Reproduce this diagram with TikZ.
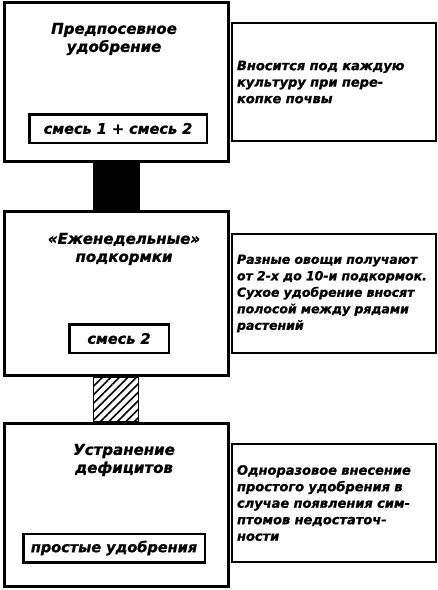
\documentclass[tikz,border=0pt]{standalone}
\usepackage{fontspec}
\setmainfont{DejaVu Sans}
\newfontfamily\hand{DejaVu Sans}[FakeBold=1]
\usetikzlibrary{patterns.meta}

\tikzset{
  stage/.style={draw, line width=3pt, anchor=north west, minimum width=224pt},
  mix/.style={draw, line width=2.5pt, inner sep=0pt, minimum height=28.5pt,
    font=\hand\fontsize{14.5}{17}\selectfont\bfseries\itshape},
  note/.style={draw, line width=2pt, anchor=north west, minimum width=204pt,
    text width=194pt, inner xsep=5pt, align=left,
    font=\hand\fontsize{13}{16.5}\selectfont\bfseries\itshape},
  heading/.style={align=center, font=\hand\fontsize{15}{18}\selectfont\bfseries\itshape}
}

\begin{document}
\begin{tikzpicture}[x=1pt,y=-1pt]
  \useasboundingbox (0,0) rectangle (438,590);
  \node[stage, minimum height=159pt] (s1) at (3,1) {};
  \node[stage, minimum height=164pt] (s2) at (3,210) {};
  \node[stage, minimum height=163pt] (s3) at (3,422) {};
  \node[heading] (h1) at (114,39) {Предпосевное\\удобрение};
  \node[heading] (h2) at (124,249) {«Еженедельные»\\подкормки};
  \node[heading] (h3) at (124,460) {Устранение\\дефицитов};
  \node[mix, minimum width=177.5pt] (m1) at (118,128.5) {смесь 1 + смесь 2};
  \node[mix, minimum width=99.5pt] (m2) at (119,338.5) {смесь 2};
  \node[mix, minimum width=181.5pt] (m3) at (114,548) {простые удобрения};
  \node[note, minimum height=118pt] (n1) at (231,22)
    {Вносится под каждую\\культуру при пере-\\копке почвы};
  \node[note, minimum height=119pt, font=\hand\fontsize{12.5}{16.5}\selectfont\bfseries\itshape] (n2) at (231,233)
    {Разные овощи получают\\от 2-х до 10-и подкормок.\\Сухое удобрение вносят\\полосой между рядами\\растений\\[-4pt]};
  \node[note, minimum height=118pt] (n3) at (231,443)
    {Одноразовое внесение\\простого удобрения в\\случае появления сим-\\птомов недостаточ-\\ности\\[-4pt]};
  \fill ([xshift=-24pt]s1.south) rectangle ([xshift=23pt]s2.north);
  \draw[line width=1.5pt, pattern={Lines[angle=45, distance=6pt, line width=1.6pt]}]
    ([xshift=-23pt]s2.south) rectangle ([xshift=22pt]s3.north);
\end{tikzpicture}
\end{document}
